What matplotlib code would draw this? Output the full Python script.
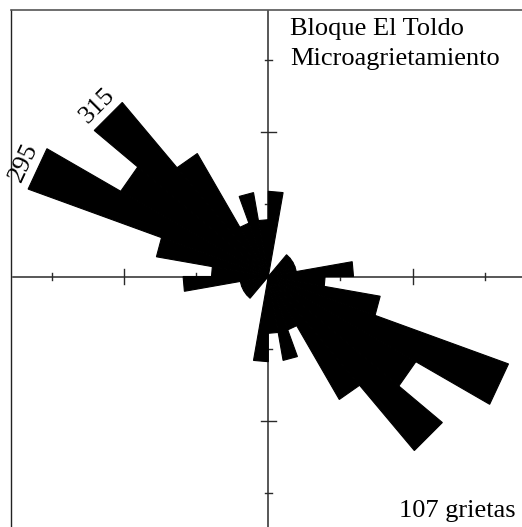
import numpy as np
import matplotlib.pyplot as plt

# Rose diagram, bidirectional: each petal (0-180) is repeated at +180
azimuths = np.arange(5, 180, 10)          # bin centres, deg clockwise from N
counts = [3, 0, 0, 0, 1, 1, 1, 1, 3, 2, 4, 9, 6, 8, 5, 2, 3, 2]
bin_width = 10
ring_ticks = [2.54, 5.08, 7.62]            # marks along the cross axes
labelled = [295, 315]
title_lines = ['Bloque El Toldo', 'Microagrietamiento']
n_cracks = 107

W, H = 522, 527
cx, cy = 268.3, 276.5     # centre of rose in px (from top-left)
ppu = 28.4                # px per count
fx, fy = 10.7, 10.0       # frame left / top in px
fs = 19

plt.rcParams['font.family'] = ['Liberation Serif', 'DejaVu Serif']
fig = plt.figure(figsize=(W / 100, H / 100), dpi=100)

# frame and cross axes, equal scale: 1 count = ppu px
ax = fig.add_axes([fx / W, 0, 1 - fx / W, 1 - fy / H])
xmin, xmax = (fx - cx) / ppu, (W - cx) / ppu
ymin, ymax = -(H - cy) / ppu, (cy - fy) / ppu
ax.set_xlim(xmin, xmax)
ax.set_ylim(ymin, ymax)
ax.set_xticks([])
ax.set_yticks([])
for side in ['right', 'bottom']:
    ax.spines[side].set_visible(False)
ax.spines['left'].set_color('#222222')
ax.spines['top'].set_color('#555555')
ax.spines['left'].set_linewidth(1.0)
ax.spines['top'].set_linewidth(1.2)

axis_col = '#2a2a2a'
ax.plot([(13 - cx) / ppu, xmax], [0, 0], color=axis_col, lw=1.1, zorder=1)
ax.plot([0, 0], [ymin, ymax], color=axis_col, lw=1.1, zorder=1)
for i, t in enumerate(ring_ticks):
    h = (7.5 if i == 1 else 3.5) / ppu
    for s in (-1, 1):
        ax.plot([s * t, s * t], [-h, h], color=axis_col, lw=1.0, zorder=1)
        ax.plot([-h, h], [s * t, s * t], color=axis_col, lw=1.0, zorder=1)

# petals: wedges with straight outer edge
for az, n in zip(azimuths, counts):
    if n == 0:
        continue
    for c in (az, az + 180):
        a = np.deg2rad([c - bin_width / 2, c + bin_width / 2])
        xs = [0, n * np.sin(a[0]), n * np.sin(a[1])]
        ys = [0, n * np.cos(a[0]), n * np.cos(a[1])]
        ax.fill(xs, ys, color='black', lw=0.8, zorder=3)

for az in labelled:
    n = counts[list(azimuths).index(az % 180)]
    rot = (90 - az) % 360 - 90
    rl = n + 0.5
    a = np.deg2rad(az)
    ax.text(rl * np.sin(a), rl * np.cos(a), str(az), rotation=rot,
            ha='center', va='center', fontsize=fs, rotation_mode='anchor')

fig.text(290 / W, 1 - 35 / H, title_lines[0], fontsize=fs, va='baseline')
fig.text(290 / W, 1 - 65 / H, title_lines[1], fontsize=fs, va='baseline')
fig.text(516 / W, 1 - 517 / H, f'{n_cracks} grietas', fontsize=fs,
         ha='right', va='baseline')

fig.savefig('out.png', dpi=100)
